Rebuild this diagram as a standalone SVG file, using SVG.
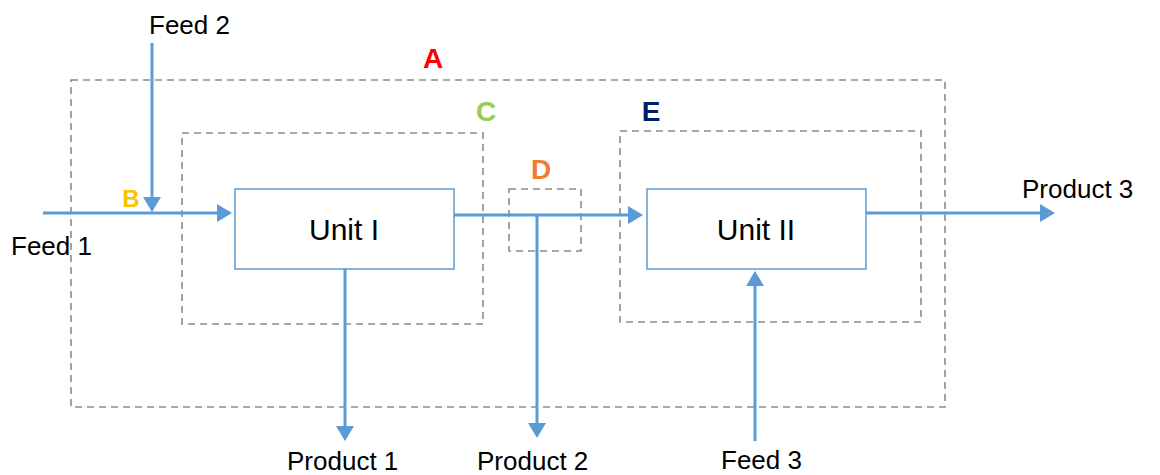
<svg xmlns="http://www.w3.org/2000/svg" width="1160" height="475" viewBox="0 0 1160 475">
<defs>
<marker id="ah" markerWidth="6" markerHeight="6" refX="4" refY="3" orient="auto" markerUnits="strokeWidth"><path d="M0,0 L5,3 L0,6 Z" fill="#5B9BD5"/></marker>
<style>
.bnd{fill:none;stroke:#8C8C8C;stroke-width:1.6;stroke-dasharray:7,5}
.unit{fill:#fff;stroke:#5B9BD5;stroke-width:1.5}
.flow{fill:none;stroke:#5B9BD5;stroke-width:3}
.lbl{font-family:"Liberation Sans",Arial,sans-serif;font-size:26px;fill:#000}
.ut{font-family:"Liberation Sans",Arial,sans-serif;font-size:30px;fill:#000;text-anchor:middle}
.let{font-family:"Liberation Sans",Arial,sans-serif;font-size:28px;font-weight:bold;text-anchor:middle}
</style>
</defs>
<rect width="1160" height="475" fill="#fff"/>
<g id="boundaries">
<rect id="A" class="bnd" x="71" y="80" width="874" height="327"/>
<rect id="C" class="bnd" x="182" y="133" width="301" height="191"/>
<rect id="D" class="bnd" x="509" y="189" width="72" height="62"/>
<rect id="E" class="bnd" x="620" y="131" width="301" height="191"/>
</g>
<g id="unit1"><rect class="unit" x="235" y="189" width="219" height="80"/><text class="ut" x="344" y="240">Unit I</text></g>
<g id="unit2"><rect class="unit" x="647" y="189" width="219" height="80"/><text class="ut" x="756" y="240">Unit II</text></g>
<g id="connectors">
<path class="flow" d="M43,213 H229" marker-end="url(#ah)"/>
<path class="flow" d="M152,43 V209" marker-end="url(#ah)"/>
<path class="flow" d="M454,215 H640" marker-end="url(#ah)"/>
<path class="flow" d="M866,213 H1052" marker-end="url(#ah)"/>
<path class="flow" d="M345,269 V438" marker-end="url(#ah)"/>
<path class="flow" d="M537,215 V435" marker-end="url(#ah)"/>
<path class="flow" d="M755,441 V274" marker-end="url(#ah)"/>
</g>
<g id="labels">
<text class="lbl" x="149" y="34">Feed 2</text>
<text class="lbl" x="11" y="255">Feed 1</text>
<text class="lbl" x="1022" y="198">Product 3</text>
<text class="lbl" x="287" y="470">Product 1</text>
<text class="lbl" x="477" y="470">Product 2</text>
<text class="lbl" x="721" y="469">Feed 3</text>
<text class="let" x="433" y="68" fill="#FF0000">A</text>
<text class="let" x="131" y="207" fill="#FFC000" style="font-size:24px">B</text>
<text class="let" x="486" y="121" fill="#92D050">C</text>
<text class="let" x="541" y="179" fill="#ED7D31">D</text>
<text class="let" x="651" y="121" fill="#002060">E</text>
</g>
</svg>
